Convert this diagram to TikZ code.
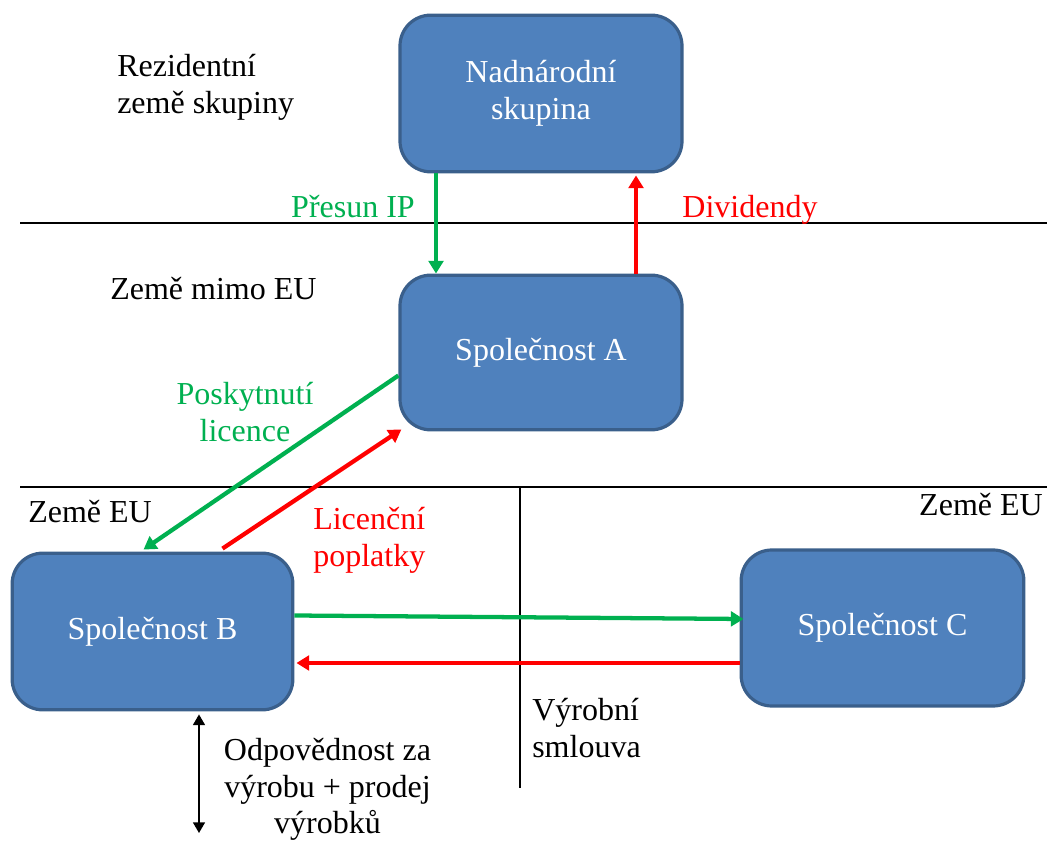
\documentclass[tikz,border=0pt]{standalone}
\usepackage{fontspec}
\setmainfont{Liberation Serif}
\newfontfamily\tnrfont{Liberation Serif}
\usetikzlibrary{arrows.meta,calc}
\definecolor{boxfill}{HTML}{4F81BD}
\definecolor{boxline}{HTML}{3A5F8B}
\definecolor{mygreen}{HTML}{00B050}
\definecolor{myred}{HTML}{FF0000}
\tikzset{
  company/.style={draw=boxline, fill=boxfill, line width=2.4pt, rounded corners=23pt,
    text=white, align=center, inner sep=0pt},
  lbl/.style={inner sep=0pt},
  flow/.style={line width=3.2pt, -{Triangle[width=11pt,length=9.5pt]}},
  sep/.style={line width=1pt, black},
}
\begin{document}
\begin{tikzpicture}[x=0.75pt,y=-0.75pt, every node/.style={font=\tnrfont\fontsize{24}{27.5}\selectfont}]
\useasboundingbox (0,0) rectangle (1047,841);
% separator lines
\coordinate (l1a) at (20,223);   \coordinate (l1b) at (1047,223);
\coordinate (l2a) at (20,487);   \coordinate (l2b) at (1047,487);
\coordinate (v1a) at (520,487);  \coordinate (v1b) at (520,788);
\draw[sep] (l1a) -- (l1b);
\draw[sep] (l2a) -- (l2b);
\draw[sep] (v1a) -- (v1b);
% boxes
\node[company, minimum width=211.5pt, minimum height=117.5pt] (N) at (541,93.5) {Nadnárodní\\skupina};
\node[company, minimum width=211.5pt, minimum height=116pt] (A) at (541,352.5) {Společnost A};
\node[company, minimum width=210.5pt, minimum height=117.5pt] (B) at (152.5,631.5) {Společnost B};
\node[company, minimum width=212pt, minimum height=117pt] (C) at (882.5,628) {Společnost C};
% labels
\node[lbl, anchor=west, align=left] (t1) at (117,87) {Rezidentní\\země skupiny};
\node[lbl, anchor=base west] (t2) at (110,300) {Země mimo EU};
\node[lbl, anchor=base west] (t3) at (28,523) {Země EU};
\node[lbl, anchor=base east] (t4) at (1043,516) {Země EU};
\node[lbl, anchor=base, text=mygreen] (t5) at (353,218) {Přesun IP};
\node[lbl, anchor=base, text=myred] (t6) at (750,218) {Dividendy};
\node[lbl, align=center, text=mygreen] (t7) at (245,412) {Poskytnutí\\licence};
\node[lbl, anchor=west, align=left, text=myred] (t8) at (313,540) {Licenční\\poplatky};
\node[lbl, anchor=west, align=left] (t9) at (532,728) {Výrobní\\smlouva};
\node[lbl, align=center] (t10) at (327.5,789.5) {Odpovědnost za\\výrobu + prodej\\výrobků};
% flows
\draw[flow, mygreen] ($(N.south)+(-105,0)$) -- ($(A.north)+(-105,0)$);
\draw[flow, myred] ($(A.north)+(95,0)$) -- ($(N.south)+(95,2)$);
\draw[flow, mygreen] ($(A.west)+(0,23)$) -- ($(B.north)+(-9,-2)$);
\draw[flow, myred] ($(B.north)+(70,-3)$) -- ($(A.south west)+(3,-2)$);
\draw[flow, mygreen] ($(B.east)+(0,-16)$) -- ($(C.west)+(4,-9)$);
\draw[flow, myred] ($(C.west)+(0,35)$) -- ($(B.east)+(2,31.5)$);
\coordinate (bot) at (199,833);
\draw[line width=1.1pt, {Triangle[width=9pt,length=8pt]}-{Triangle[width=9pt,length=8pt]}] ($(B.south)+(46.5,3)$) -- (bot);
\end{tikzpicture}
\end{document}
